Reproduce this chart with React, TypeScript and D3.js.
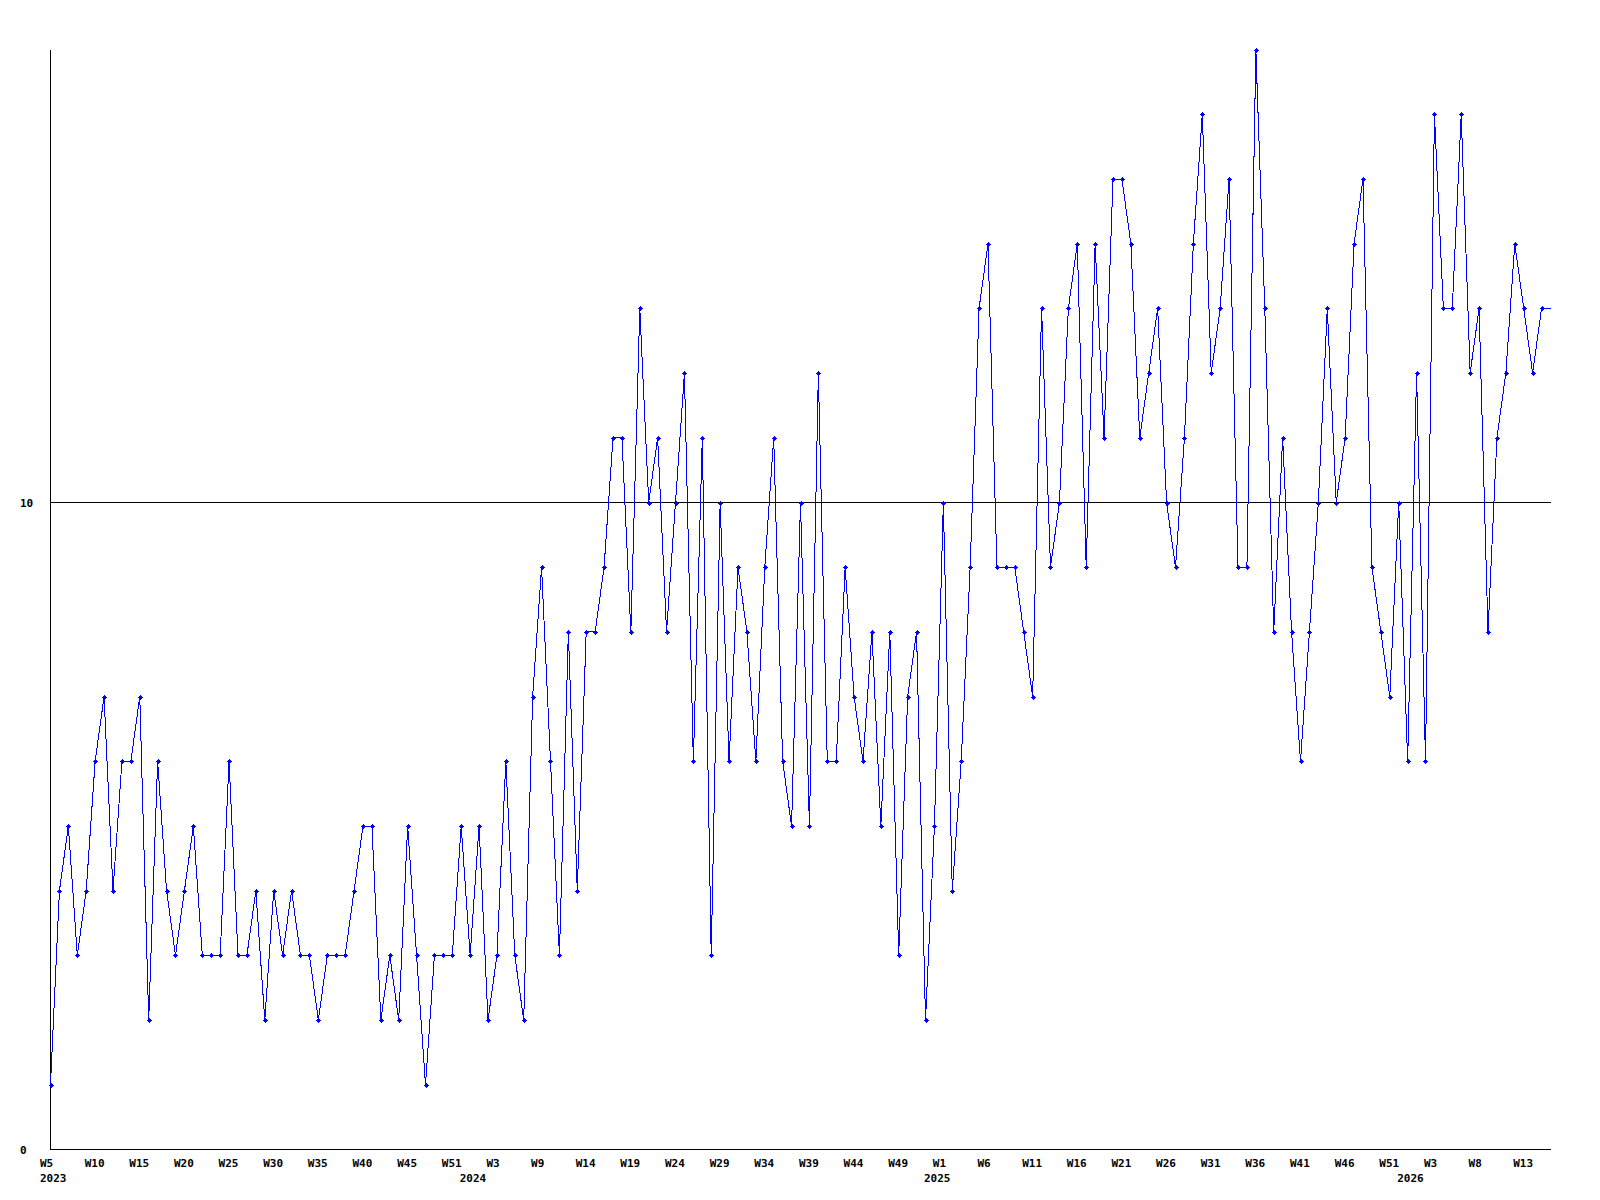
import React from "react";
import * as d3 from "d3";

// Weekly values, 2023 W5 onward
const values: number[] = [
  1, 4, 5, 3, 4, 6, 7, 4, 6, 6, 7, 2, 6, 4, 3, 4, 5, 3, 3, 3,
  6, 3, 3, 4, 2, 4, 3, 4, 3, 3, 2, 3, 3, 3, 4, 5, 5, 2, 3, 2,
  5, 3, 1, 3, 3, 3, 5, 3, 5, 2, 3, 6, 3, 2, 7, 9, 6, 3, 8, 4,
  8, 8, 9, 11, 11, 8, 13, 10, 11, 8, 10, 12, 6, 11, 3, 10, 6, 9, 8, 6,
  9, 11, 6, 5, 10, 5, 12, 6, 6, 9, 7, 6, 8, 5, 8, 3, 7, 8, 2, 5,
  10, 4, 6, 9, 13, 14, 9, 9, 9, 8, 7, 13, 9, 10, 13, 14, 9, 14, 11, 15,
  15, 14, 11, 12, 13, 10, 9, 11, 14, 16, 12, 13, 15, 9, 9, 17, 13, 8, 11, 8,
  6, 8, 10, 13, 10, 11, 14, 15, 9, 8, 7, 10, 6, 12, 6, 16, 13, 13, 16, 12,
  13, 8, 11, 12, 14, 13, 12, 13,
];

const weekLabels: string[] = [
  "W5", "W10", "W15", "W20", "W25", "W30", "W35", "W40", "W45", "W51",
  "W3", "W9", "W14", "W19", "W24", "W29", "W34", "W39", "W44", "W49",
  "W1", "W6", "W11", "W16", "W21", "W26", "W31", "W36", "W41", "W46",
  "W51", "W3", "W8", "W13",
];
const weekLabelStep = 5;

const yearLabels: string[] = ["2023", "2024", "2025", "2026"];
const yearLabelIdx: number[] = [0, 47, 99, 152];

const yTicks: number[] = [0, 10];
const yMax = 17;
const xMax = 168;

const FONT = "'DejaVu Sans Mono', 'Liberation Mono', monospace";

export default function App() {
  const x = d3.scaleLinear().domain([0, xMax]).range([50.5, 1550.5]);
  const y = d3.scaleLinear().domain([0, yMax]).range([1149.5, 49.6]);

  const pts: [number, number][] = values.map((v, i) => [i, v]);
  const linePts: [number, number][] = pts.concat([[xMax, values[values.length - 1]]]);
  const line = d3
    .line<[number, number]>()
    .x((d) => x(d[0]))
    .y((d) => y(d[1]));

  const [x0, x1] = x.range();
  const [yb, yt] = y.range();

  return (
    <svg
      width={1600}
      height={1200}
      style={{ position: "absolute", left: 0, top: 0, background: "#fff" }}
    >
      <rect x={0} y={0} width={1600} height={1200} fill="#fff" />
      {/* axes */}
      <line x1={x0} y1={yt} x2={x0} y2={yb} stroke="#000" strokeWidth={1} shapeRendering="crispEdges" />
      <line x1={x0} y1={yb} x2={x1} y2={yb} stroke="#000" strokeWidth={1} shapeRendering="crispEdges" />
      {yTicks.map((t) => (
        <g key={t}>
          {t !== 0 && (
            <line x1={x0} y1={y(t)} x2={x1} y2={y(t)} stroke="#000" strokeWidth={1} shapeRendering="crispEdges" />
          )}
          <text x={20} y={y(t) + 4} fontFamily={FONT} fontWeight="bold" fontSize={11} fill="#000">
            {String(t)}
          </text>
        </g>
      ))}
      {weekLabels.map((lab, i) => (
        <text
          key={"w" + i}
          x={x(i * weekLabelStep) - 10.5}
          y={1166.5}
          fontFamily={FONT}
          fontWeight="bold"
          fontSize={11}
          fill="#000"
        >
          {lab}
        </text>
      ))}
      {yearLabels.map((lab, i) => (
        <text
          key={"y" + i}
          x={x(yearLabelIdx[i]) - 10.5}
          y={1181.5}
          fontFamily={FONT}
          fontWeight="bold"
          fontSize={11}
          fill="#000"
        >
          {lab}
        </text>
      ))}
      {/* data line */}
      <path
        d={line(linePts) || ""}
        fill="none"
        stroke="#0000ff"
        strokeWidth={1}
        shapeRendering="crispEdges"
      />
      {pts.map((d, i) => {
        const cx = Math.round(x(d[0]));
        const cy = Math.round(y(d[1]));
        return (
          <g key={"m" + i} fill="#0000ff" shapeRendering="crispEdges">
            <rect x={cx - 2} y={cy} width={5} height={1} />
            <rect x={cx} y={cy - 2} width={1} height={5} />
            <rect x={cx - 1} y={cy - 1} width={3} height={3} />
          </g>
        );
      })}
    </svg>
  );
}
